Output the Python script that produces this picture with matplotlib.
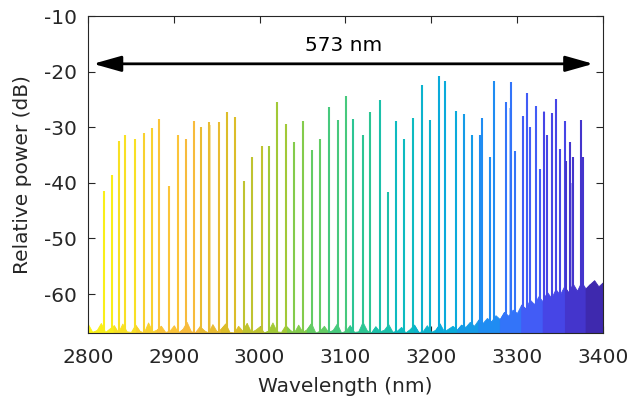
import numpy as np
import matplotlib
matplotlib.use("Agg")
import matplotlib.pyplot as plt
from matplotlib.colors import LinearSegmentedColormap

# ---------------- data ----------------
peak_wl = [2818.7, 2827.7, 2835.8, 2843.5, 2854.5, 2864.9, 2874.4, 2882.9, 2894.2, 2904.7,
           2914.4, 2923.7, 2931.9, 2941.2, 2952.6, 2961.9, 2971.6, 2982.1, 2991.4, 3002.8,
           3011.3, 3020.6, 3030.8, 3040.1, 3050.6, 3061.1, 3070.0, 3081.0, 3091.4, 3100.7,
           3109.3, 3120.6, 3128.8, 3140.8, 3149.8, 3159.1, 3168.8, 3179.4, 3189.9, 3198.1,
           3208.9, 3215.6, 3228.4, 3238.1, 3247.9, 3256.4, 3258.8, 3268.1, 3273.1, 3286.8,
           3293.4, 3297.6, 3307.4, 3311.3, 3315.1, 3321.8, 3326.5, 3332.0, 3335.5, 3340.5,
           3346.0, 3350.6, 3355.7, 3357.2, 3361.5, 3365.0, 3374.3, 3377.5]
peak_db = [-41.5, -38.5, -32.4, -31.4, -32.2, -31.0, -30.1, -28.5, -40.5, -31.4,
           -32.1, -28.9, -30.0, -29.1, -29.0, -27.2, -28.1, -39.6, -35.3, -33.3,
           -33.3, -25.4, -29.4, -32.6, -28.9, -34.1, -32.1, -26.3, -28.7, -24.4,
           -28.5, -31.4, -27.3, -25.1, -41.7, -28.9, -32.1, -28.4, -22.4, -28.7,
           -20.7, -21.7, -27.1, -27.7, -31.4, -31.4, -28.4, -35.3, -21.7, -25.4,
           -21.9, -34.2, -28.0, -23.8, -30.0, -26.1, -37.6, -27.2, -31.4, -27.5,
           -25.0, -33.9, -28.9, -36.0, -32.7, -35.3, -28.7, -35.3]

# weaker side lines
side_wl = [2942.0, 3216.6, 3291.6, 3331.2, 3363.4]
side_db = [-29.6, -42.7, -26.6, -27.0, -40.0]

# noise floor, sampled every 5 nm from 2800 to 3400
floor_wl = list(range(2800, 3401, 5))
floor_db = [-65.4, -66.8, -66.5, -65.2, -66.8, -66.2, -65.6, -66.9, -65.3, -66.7,
            -66.8, -65.5, -66.6, -66.9, -65.1, -66.7, -66.4, -65.7, -66.8, -66.6,
            -65.6, -66.9, -66.3, -65.0, -66.7, -66.8, -65.8, -66.5, -66.9, -65.4,
            -66.7, -66.2, -65.3, -66.8, -66.9, -65.7, -66.6, -65.2, -66.8, -66.4,
            -65.8, -66.9, -66.6, -65.1, -66.7, -66.8, -65.6, -66.4, -66.9, -65.5,
            -66.8, -66.3, -65.2, -66.9, -66.6, -65.7, -66.8, -66.5, -65.3, -66.9,
            -66.6, -65.6, -66.8, -66.7, -65.0, -66.5, -66.9, -65.8, -66.7, -66.4,
            -65.4, -66.8, -66.6, -65.9, -66.9, -66.3, -65.5, -66.8, -66.7, -65.6,
            -66.8, -66.4, -65.3, -66.7, -66.2, -65.7, -66.4, -65.5, -65.9, -65.0,
            -65.7, -64.6, -65.2, -64.3, -64.9, -63.8, -64.5, -63.2, -63.9, -62.8,
            -63.4, -61.9, -62.6, -61.0, -61.8, -60.4, -61.3, -59.6, -60.7, -59.1,
            -60.1, -58.6, -59.7, -58.1, -59.4, -57.8, -59.0, -58.2, -57.5, -58.6,
            -57.9]

# colour segments (25 nm blocks)
seg_edges = [2781, 2806, 2831, 2856, 2881, 2906, 2931, 2956, 2981, 3006, 3031, 3056, 3081,
             3106, 3131, 3156, 3181, 3206, 3231, 3256, 3281, 3306, 3331, 3356, 3381, 3406]

x_ticks = [2800, 2900, 3000, 3100, 3200, 3300, 3400]
y_ticks = [-60, -50, -40, -30, -20, -10]
span_text = "573 nm"
span_from, span_to, span_level = 2806, 3389, -18.6

# ---------------- colormap (parula-like) ----------------
parula_pts = [(0.00, (0.24, 0.15, 0.66)),
              (0.08, (0.28, 0.24, 0.88)),
              (0.15, (0.25, 0.40, 0.99)),
              (0.22, (0.12, 0.55, 0.95)),
              (0.30, (0.04, 0.67, 0.86)),
              (0.38, (0.05, 0.73, 0.76)),
              (0.46, (0.15, 0.77, 0.60)),
              (0.55, (0.38, 0.80, 0.40)),
              (0.63, (0.62, 0.79, 0.22)),
              (0.72, (0.86, 0.74, 0.16)),
              (0.82, (0.99, 0.73, 0.25)),
              (0.90, (0.97, 0.84, 0.17)),
              (1.00, (0.98, 0.97, 0.07))]
cmap = LinearSegmentedColormap.from_list("parula_like", parula_pts)

def seg_index(w):
    i = np.searchsorted(seg_edges, w, side="right") - 1
    return min(max(i, 0), len(seg_edges) - 2)

def seg_color_i(i):
    c = 0.5 * (seg_edges[i] + seg_edges[i + 1])
    pos = 1.0 - (c - 2800) / 600.0
    return cmap(min(max(pos, 0.0), 1.0))

def seg_color(w):
    return seg_color_i(seg_index(w))

# ---------------- figure ----------------
plt.rcParams['font.family'] = ['DejaVu Sans']
plt.rcParams['axes.unicode_minus'] = False
dark = '#262626'
fig = plt.figure(figsize=(6.3, 4.0), dpi=100)
ax = fig.add_axes([0.1397, 0.1675, 0.8170, 0.7925])

ymin = -67
fw = np.array(floor_wl, dtype=float)
fd = np.array(floor_db, dtype=float)
for i in range(len(seg_edges) - 1):
    m = (fw >= seg_edges[i] - 5) & (fw <= seg_edges[i + 1] + 5)
    if m.sum() < 2:
        continue
    col = seg_color_i(i)
    ax.fill_between(fw[m], ymin - 1, fd[m], color=col, lw=0.6, edgecolor=col,
                    zorder=2 + i * 0.001)

ax.vlines(side_wl, ymin, side_db, colors=[seg_color(w) for w in side_wl],
          lw=1.1, alpha=0.55, zorder=3)
ax.vlines(peak_wl, ymin, peak_db, colors=[seg_color(w) for w in peak_wl],
          lw=1.5, zorder=4)

ax.set_xlim(2800, 3400)
ax.set_ylim(ymin, -10)
ax.set_xticks(x_ticks)
ax.set_yticks(y_ticks)
ax.tick_params(direction='in', length=5, width=0.8, top=True, right=True,
               color=dark, labelcolor=dark, labelsize=14.5)
ax.tick_params(axis='x', pad=11)
ax.tick_params(axis='y', pad=8)
for s in ax.spines.values():
    s.set_color(dark)
    s.set_linewidth(0.8)
    s.set_zorder(10)

ax.set_xlabel("Wavelength (nm)", fontsize=14.5, color=dark, labelpad=7)
ax.set_ylabel("Relative power (dB)", fontsize=14.5, color=dark, labelpad=8.5)

ax.annotate('', xy=(span_from, span_level), xytext=(span_to, span_level),
            arrowprops=dict(arrowstyle='<|-|>,head_length=0.85,head_width=0.24',
                            lw=2.0, color='k', mutation_scale=20,
                            shrinkA=0, shrinkB=0), zorder=6)
ax.text(0.5 * (span_from + span_to), -15.3, span_text, ha='center', va='center',
        fontsize=14.5, color='k', zorder=6)

fig.savefig("out.png", dpi=100)
